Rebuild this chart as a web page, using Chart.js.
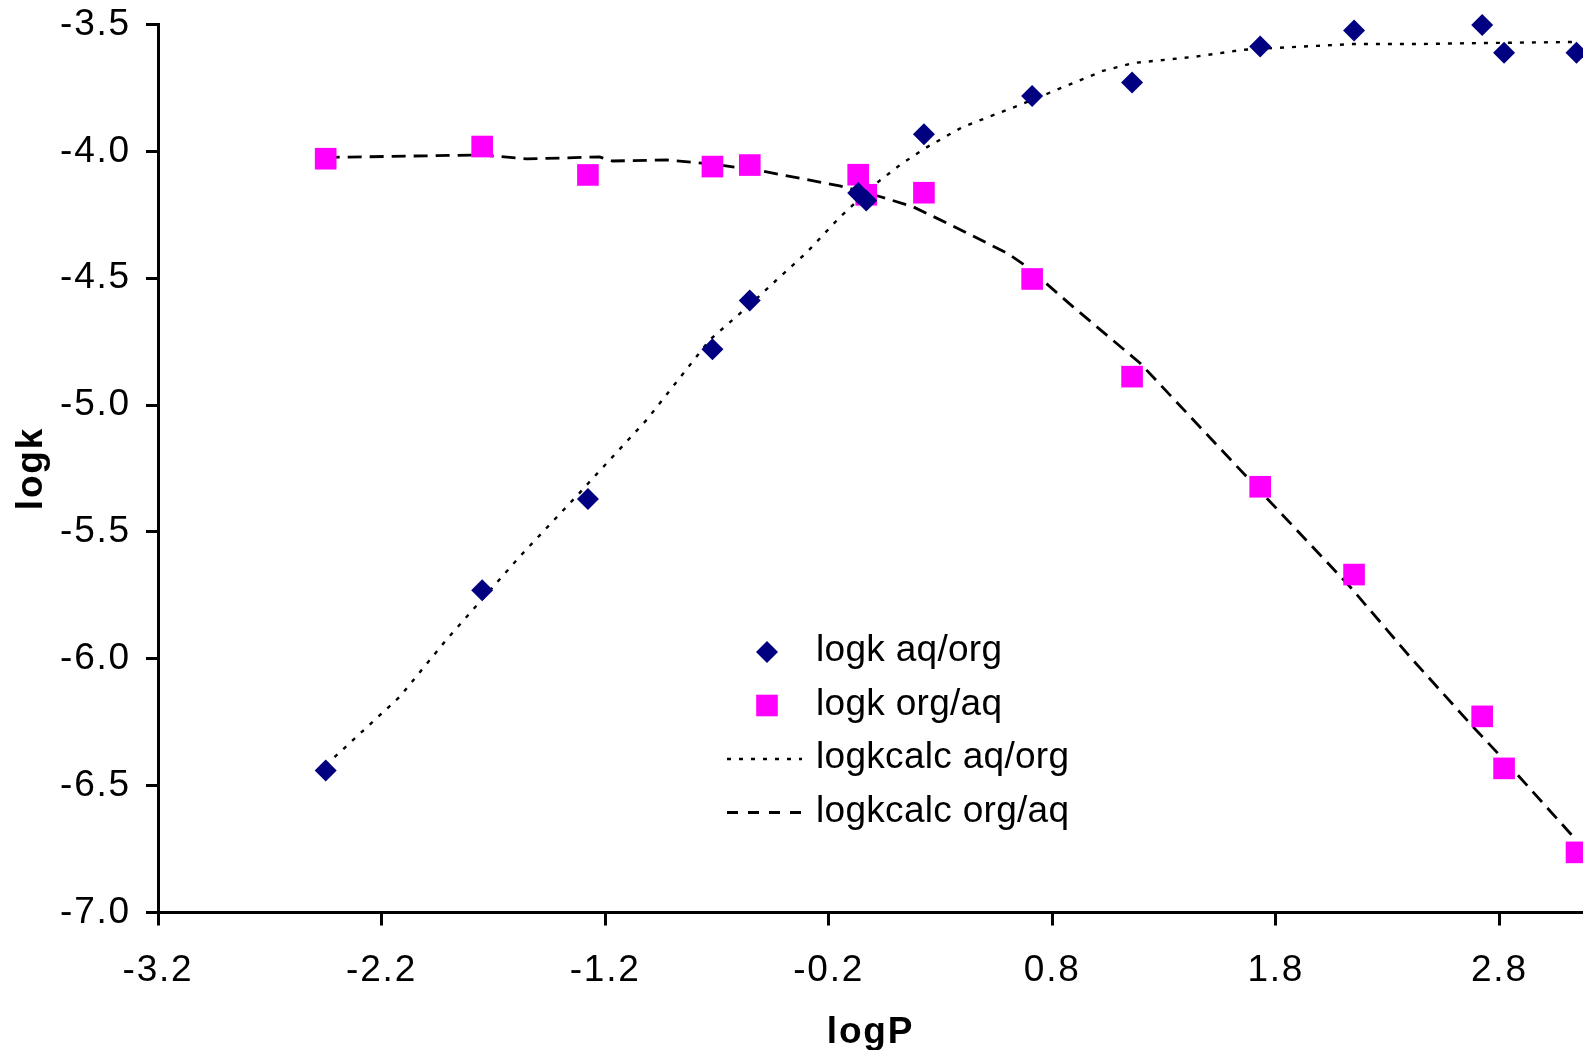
<!DOCTYPE html>
<html><head><meta charset="utf-8">
<script src="https://cdn.jsdelivr.net/npm/chart.js@4/dist/chart.umd.min.js"></script>
<style>
html,body{margin:0;padding:0;background:#fff;}
#wrap{position:relative;width:1583px;height:1050px;overflow:hidden;background:#fff;}
#c{position:absolute;left:0;top:0;}
.lgt{position:absolute;font-family:'Liberation Sans',Arial,sans-serif;font-size:37px;line-height:44px;color:#000;white-space:nowrap;letter-spacing:0.3px;}
#lgsvg{position:absolute;left:0;top:0;}
</style></head><body>
<div id="wrap"><canvas id="c" width="1583" height="1050"></canvas></div>
<script>
// ---- data ----
const logP        = [-2.45, -1.75, -1.277, -0.72, -0.553, -0.068, -0.032, 0.226, 0.71, 1.157, 1.73, 2.15, 2.723, 2.821, 3.145];
const logkAqOrg   = [-6.44, -5.73, -5.37, -4.78, -4.588, -4.164, -4.194, -3.933, -3.782, -3.729, -3.587, -3.524, -3.502, -3.611, -3.611];
const logkOrgAq   = [-4.029, -3.981, -4.093, -4.060, -4.054, -4.092, -4.171, -4.163, -4.503, -4.888, -5.322, -5.668, -6.227, -6.432, -6.763];

const calcAqLogP  = [-2.45, -2.119, -1.91, -1.753, -1.583, -1.314, -1.269, -1.014, -0.732, -0.553, -0.433, -0.30, -0.151, 0.02, 0.117, 0.226, 0.399, 0.655, 1.026, 1.16, 1.429, 1.652, 1.787, 2.145, 2.431, 2.727, 3.129];
const calcAqOrg   = [-6.42, -6.15, -5.925, -5.768, -5.598, -5.346, -5.302, -5.058, -4.743, -4.605, -4.507, -4.40, -4.26, -4.121, -4.055, -3.99, -3.904, -3.817, -3.683, -3.652, -3.628, -3.60, -3.593, -3.577, -3.577, -3.573, -3.569];

const calcOrgLogP = [-2.45, -1.753, -1.551, -1.225, -1.167, -0.925, -0.719, -0.509, -0.151, 0.028, 0.176, 0.328, 0.596, 0.686, 0.892, 1.192, 1.670, 2.131, 2.40, 2.682, 2.833, 3.129];
const calcOrgAq   = [-4.024, -4.014, -4.03, -4.022, -4.038, -4.034, -4.050, -4.076, -4.136, -4.178, -4.218, -4.282, -4.400, -4.454, -4.612, -4.834, -5.283, -5.715, -5.992, -6.268, -6.41, -6.70];

const xTicks = [-3.2, -2.2, -1.2, -0.2, 0.8, 1.8, 2.8];
const yTicks = [-3.5, -4.0, -4.5, -5.0, -5.5, -6.0, -6.5, -7.0];
const seriesNames = ['logk aq/org', 'logk org/aq', 'logkcalc aq/org', 'logkcalc org/aq'];

// ---- chart ----
const FONT = "'Liberation Sans', Arial, sans-serif";
Chart.defaults.font.family = FONT;
Chart.defaults.color = '#000';
const pts = (xs, ys) => xs.map((x, i) => ({x: x, y: ys[i]}));

const spacingPlugin = {
  id: 'spacing',
  beforeLayout(chart) { chart.ctx.letterSpacing = '1.8px'; },
  beforeDraw(chart) { chart.ctx.letterSpacing = '1.8px'; }
};
const noScalePad = s => { s.paddingTop = 0; s.paddingBottom = 0; s.paddingLeft = 0; s.paddingRight = 0; };

new Chart(document.getElementById('c'), {
  type: 'scatter',
  plugins: [spacingPlugin],
  data: {
    datasets: [
      {label: seriesNames[0], data: pts(logP, logkAqOrg), pointStyle: 'rectRot', pointRadius: 11,
       backgroundColor: '#000080', borderColor: '#000080', borderWidth: 0, pointBorderWidth: 0, showLine: false, clip: false},
      {label: seriesNames[1], data: pts(logP, logkOrgAq), pointStyle: 'rect', pointRadius: 15.3,
       backgroundColor: '#FF00FF', borderColor: '#FF00FF', borderWidth: 0, pointBorderWidth: 0, showLine: false, clip: false},
      {label: seriesNames[2], data: pts(calcAqLogP, calcAqOrg), showLine: true, pointRadius: 0,
       borderColor: '#000', borderWidth: 2.4, borderDash: [4, 8], fill: false, tension: 0, clip: false},
      {label: seriesNames[3], data: pts(calcOrgLogP, calcOrgAq), showLine: true, pointRadius: 0,
       borderColor: '#000', borderWidth: 2.8, borderDash: [14, 8], fill: false, tension: 0, clip: false}
    ]
  },
  options: {
    responsive: false, animation: false, devicePixelRatio: 1,
    layout: {autoPadding: false, padding: {top: 24.5, right: 0, bottom: 0, left: 0}},
    plugins: {legend: {display: false}, tooltip: {enabled: false}},
    scales: {
      x: {
        type: 'linear', position: 'bottom', min: -3.2, max: 3.174,
        afterBuildTicks: s => { s.ticks = xTicks.map(v => ({value: v})); },
        afterFit: s => { s.height = 137.5; noScalePad(s); },
        ticks: {autoSkip: false, maxRotation: 0, padding: 23, color: '#000', font: {size: 37},
                callback: v => Number(v).toFixed(1)},
        grid: {drawOnChartArea: false, drawTicks: true, tickLength: 13, color: '#000', lineWidth: 3},
        border: {display: true, color: '#000', width: 3},
        title: {display: true, text: 'logP', color: '#000', font: {size: 37, weight: 'bold', lineHeight: 0.95},
                padding: {top: 0, bottom: 0}}
      },
      y: {
        type: 'linear', position: 'left', min: -7.0, max: -3.5,
        afterBuildTicks: s => { s.ticks = yTicks.map(v => ({value: v})); },
        afterFit: s => { s.width = 158; noScalePad(s); },
        ticks: {autoSkip: false, padding: 15, color: '#000', font: {size: 37},
                callback: v => Number(v).toFixed(1)},
        grid: {drawOnChartArea: false, drawTicks: true, tickLength: 12, color: '#000', lineWidth: 3},
        border: {display: true, color: '#000', width: 3},
        title: {display: true, text: 'logk', color: '#000', font: {size: 37, weight: 'bold', lineHeight: 1.2},
                padding: {top: 10, bottom: 0}}
      }
    }
  }
});

// ---- legend (inside plot area) ----
const wrap = document.getElementById('wrap');
const rowY = [652, 705.5, 759, 812.5];
const NS = 'http://www.w3.org/2000/svg';
const svg = document.createElementNS(NS, 'svg');
svg.setAttribute('id', 'lgsvg'); svg.setAttribute('width', 1583); svg.setAttribute('height', 1050);
function el(tag, attrs) { const e = document.createElementNS(NS, tag); for (const k in attrs) e.setAttribute(k, attrs[k]); svg.appendChild(e); return e; }
const mx = 767;
el('polygon', {points: `${mx},${rowY[0]-11} ${mx+11},${rowY[0]} ${mx},${rowY[0]+11} ${mx-11},${rowY[0]}`, fill: '#000080'});
el('rect', {x: mx - 10.8, y: rowY[1] - 10.8, width: 21.6, height: 21.6, fill: '#FF00FF'});
el('line', {x1: 727, x2: 802, y1: rowY[2], y2: rowY[2], stroke: '#000', 'stroke-width': 2.4, 'stroke-dasharray': '4 8'});
el('line', {x1: 727, x2: 807, y1: rowY[3], y2: rowY[3], stroke: '#000', 'stroke-width': 2.8, 'stroke-dasharray': '11 10'});
wrap.appendChild(svg);
seriesNames.forEach((name, i) => {
  const d = document.createElement('div');
  d.className = 'lgt';
  d.textContent = name;
  d.style.left = '816px';
  d.style.top = (rowY[i] - 25) + 'px';
  wrap.appendChild(d);
});
</script>
</body></html>
